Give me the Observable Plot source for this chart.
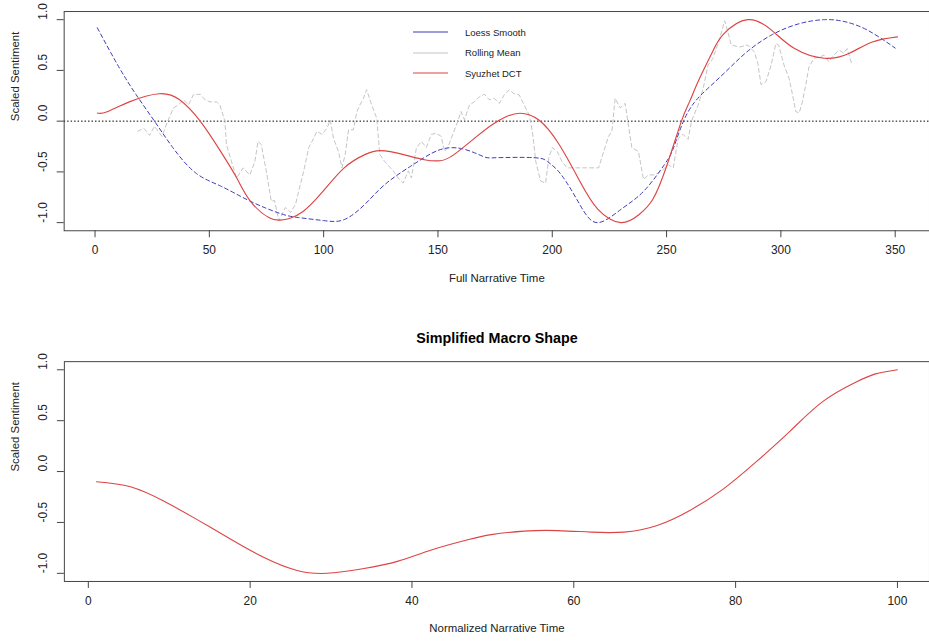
<!DOCTYPE html>
<html><head><meta charset="utf-8">
<script src="https://cdn.jsdelivr.net/npm/d3@7"></script>
<script src="https://cdn.jsdelivr.net/npm/@observablehq/plot@0.6"></script>
<style>
html,body{margin:0;padding:0;background:#fff;overflow:hidden;}
#wrap{position:relative;width:929px;height:642px;overflow:hidden;font-family:"Liberation Sans",Arial,sans-serif;}
#wrap svg{display:block;}
#legend{position:absolute;left:413px;top:21.75px;font-size:9.5px;color:#222;}
.row{display:flex;align-items:center;height:20.5px;white-space:nowrap;}
.row svg{margin-right:17px;}
</style></head><body>
<div id="wrap"><div id="topchart"></div><div id="bottomchart"></div><div id="legend"></div></div>
<script>
// ---- data ----
const xTicksFull = [0, 50, 100, 150, 200, 250, 300, 350];
const xTicksNorm = [0, 20, 40, 60, 80, 100];
const yTicks = [-1, -0.5, 0, 0.5, 1];

const dctT = [1,5,15,28,37,46,55,62,68,76,81,85,91,99,109,118,125,135,144,151,157,167,174,180,186,194,203,212,220,230,238,244,250,256.5,260,264,270,275,285.5,296,306,319,330,340,351];
const dctV = [0.08,0.09,0.19,0.27,0.21,0.0,-0.30,-0.56,-0.79,-0.95,-0.975,-0.96,-0.89,-0.71,-0.46,-0.33,-0.29,-0.33,-0.38,-0.39,-0.33,-0.15,-0.03,0.045,0.078,0.013,-0.23,-0.59,-0.87,-1.0,-0.92,-0.77,-0.445,0.0,0.19,0.40,0.68,0.86,1.0,0.895,0.715,0.62,0.67,0.78,0.83];

const loessT = [1,10,18,26,34,44,55,68,81,89,100,109,118,127,138,147,154,162,170,176,192,198,204,212,219.6,230,240,249,253,257.4,262,267,276,285,296,308,319,328,338,350];
const loessV = [0.92,0.55,0.26,0.0,-0.26,-0.51,-0.64,-0.79,-0.91,-0.95,-0.98,-0.97,-0.82,-0.62,-0.445,-0.32,-0.265,-0.28,-0.35,-0.36,-0.36,-0.40,-0.53,-0.82,-1.0,-0.87,-0.69,-0.43,-0.265,0.0,0.18,0.30,0.49,0.68,0.85,0.96,1.0,0.98,0.895,0.72];

const rollT = [18.7,21.3,23.9,26,29.3,31.4,34.3,36.5,38.7,40.9,43,46,48.1,50.3,53.2,54.6,56.8,57.5,59.7,61.9,64.8,67.7,69.9,71.3,72.7,74.9,77.1,78.5,80.4,83.3,85.5,87.7,89.1,91.3,93.5,94.9,97.1,99.3,101.4,102.9,104.3,106.5,108,109.4,110.9,113,114.5,115.9,117.4,118.8,121,123.2,124.6,126.8,130.4,132.6,134.8,137,138.4,140.6,142.8,144.9,147.1,149.3,151.4,152.9,154.3,156.5,158.7,160.1,161.6,163.8,165.9,168.1,170.3,172.5,174.6,176.8,179,181.2,183.3,185.5,187.7,189.9,191.3,192.8,194.9,197.1,198.5,200,202.2,204.3,206.5,210.1,214.5,220.3,222.5,224.6,226.1,227.5,229.7,231.9,233.3,234.8,237.7,239.9,242,244.9,247.8,250.7,252.9,255.1,257.2,259.4,260.9,263.8,266,268.1,270.3,273.2,275.4,276.8,278.3,281.9,285.5,288.4,289.9,291.3,293.5,295.7,297.8,299,301.4,303.6,305.1,306.5,308,309.4,310.9,312.3,314.5,316.7,318.8,321,323.2,325.4,327.5,329,330.9];
const rollV = [-0.10,-0.07,-0.14,-0.05,-0.15,-0.02,0.13,0.16,0.21,0.16,0.26,0.265,0.21,0.19,0.19,0.16,0.0,-0.23,-0.40,-0.56,-0.46,-0.53,-0.40,-0.20,-0.23,-0.49,-0.79,-0.78,-0.98,-0.85,-0.90,-0.82,-0.69,-0.49,-0.26,-0.20,-0.10,-0.13,-0.07,0.01,-0.17,-0.30,-0.46,-0.33,-0.085,-0.085,0.09,0.16,0.225,0.31,0.16,0.03,-0.33,-0.40,-0.49,-0.56,-0.61,-0.49,-0.56,-0.26,-0.20,-0.26,-0.13,-0.12,-0.15,-0.30,-0.26,-0.13,0.0,0.095,0.013,0.16,0.19,0.24,0.265,0.21,0.225,0.175,0.26,0.31,0.27,0.26,0.16,0.06,-0.10,-0.40,-0.59,-0.61,-0.36,-0.26,-0.30,-0.40,-0.46,-0.46,-0.46,-0.46,-0.30,-0.15,-0.10,0.225,0.13,0.175,-0.04,-0.26,-0.30,-0.575,-0.53,-0.53,-0.49,-0.43,-0.46,-0.17,-0.13,-0.18,0.0,0.16,0.32,0.55,0.62,0.81,0.99,0.88,0.75,0.73,0.75,0.68,0.57,0.36,0.39,0.55,0.765,0.75,0.55,0.42,0.26,0.095,0.08,0.19,0.36,0.535,0.62,0.63,0.65,0.585,0.65,0.70,0.67,0.715,0.57];

const macroT = [1,5.2,9.3,13.4,17.5,21.6,25.7,29.5,33.9,38.3,42.4,46.9,49.8,53.9,58,62.1,66.2,70.3,74.4,78.5,82.6,86.7,90.8,94.9,97.3,100];
const macroV = [-0.10,-0.15,-0.29,-0.47,-0.66,-0.84,-0.97,-1.0,-0.955,-0.88,-0.77,-0.67,-0.62,-0.585,-0.58,-0.595,-0.595,-0.53,-0.38,-0.17,0.10,0.395,0.69,0.88,0.96,1.0];

const legendLabels = ["Loess Smooth", "Rolling Mean", "Syuzhet DCT"];

// ---- styles ----
const RED = "#dd4444", BLUE = "#3a3ab8", GRAY = "#c4c4c4", INK = "#222", BOX = "#444";
const FONT = "'Liberation Sans', Arial, sans-serif";
const legendColors = [BLUE, GRAY, RED];

const rows = (T, V) => T.map((t, i) => ({t, v: V[i]}));
const yAxisMarks = (title) => [
  Plot.axisY({ticks: yTicks, tickSize: 7, tickFormat: () => "", label: null, stroke: BOX}),
  Plot.text(yTicks, {y: d => d, frameAnchor: "left", dx: -21, rotate: -90, text: d => d.toFixed(1), fontSize: 12, fill: INK}),
  Plot.text([title], {frameAnchor: "left", dx: -49, rotate: -90, fontSize: 11.5, fill: INK})
];

const topPlot = Plot.plot({
  width: 934, height: 300,
  marginLeft: 64, marginRight: 0, marginTop: 11.1, marginBottom: 68.5,
  x: {domain: [-13.5, 365]},
  y: {domain: [-1.08, 1.08]},
  style: {fontFamily: FONT, fontSize: "12px", color: INK, background: "white"},
  marks: [
    Plot.ruleY([0], {stroke: "#000", strokeDasharray: "1.5,2"}),
    Plot.line(rows(rollT, rollV), {x: "t", y: "v", stroke: GRAY, strokeWidth: 1, strokeDasharray: "4,3"}),
    Plot.line(rows(loessT, loessV), {x: "t", y: "v", curve: "natural", stroke: BLUE, strokeWidth: 1, strokeDasharray: "4,3"}),
    Plot.line(rows(dctT, dctV), {x: "t", y: "v", curve: "natural", stroke: RED, strokeWidth: 1.15}),
    Plot.frame({stroke: BOX}),
    Plot.axisX({ticks: xTicksFull, tickSize: 7, tickPadding: 8, label: null, stroke: BOX, fontSize: 12}),
    ...yAxisMarks("Scaled Sentiment"),
    Plot.text(["Full Narrative Time"], {frameAnchor: "bottom", dy: 51.5, fontSize: 11.5, fill: INK})
  ]
});
document.getElementById("topchart").append(topPlot);

const bottomPlot = Plot.plot({
  width: 934, height: 342,
  marginLeft: 64.2, marginRight: 0, marginTop: 63.5, marginBottom: 57.5,
  x: {domain: [-2.96, 103.96]},
  y: {domain: [-1.08, 1.08]},
  style: {fontFamily: FONT, fontSize: "12px", color: INK, background: "white"},
  marks: [
    Plot.line(rows(macroT, macroV), {x: "t", y: "v", curve: "natural", stroke: RED, strokeWidth: 1.1}),
    Plot.frame({stroke: BOX}),
    Plot.axisX({ticks: xTicksNorm, tickSize: 7, tickPadding: 8, label: null, stroke: BOX, fontSize: 12}),
    ...yAxisMarks("Scaled Sentiment"),
    Plot.text(["Normalized Narrative Time"], {frameAnchor: "bottom", dy: 50.5, fontSize: 11.5, fill: INK}),
    Plot.text(["Simplified Macro Shape"], {frameAnchor: "top", dy: -28.5, fontSize: 14.4, fontWeight: "bold", fill: "#000"})
  ]
});
document.getElementById("bottomchart").append(bottomPlot);

// legend
const legend = document.getElementById("legend");
legendLabels.forEach((lab, i) => {
  const row = document.createElement("div");
  row.className = "row";
  row.innerHTML = `<svg width="35" height="4"><line x1="0" x2="35" y1="2" y2="2" stroke="${legendColors[i]}" stroke-width="1.2"/></svg><span>${lab}</span>`;
  legend.append(row);
});
</script>
</body></html>
